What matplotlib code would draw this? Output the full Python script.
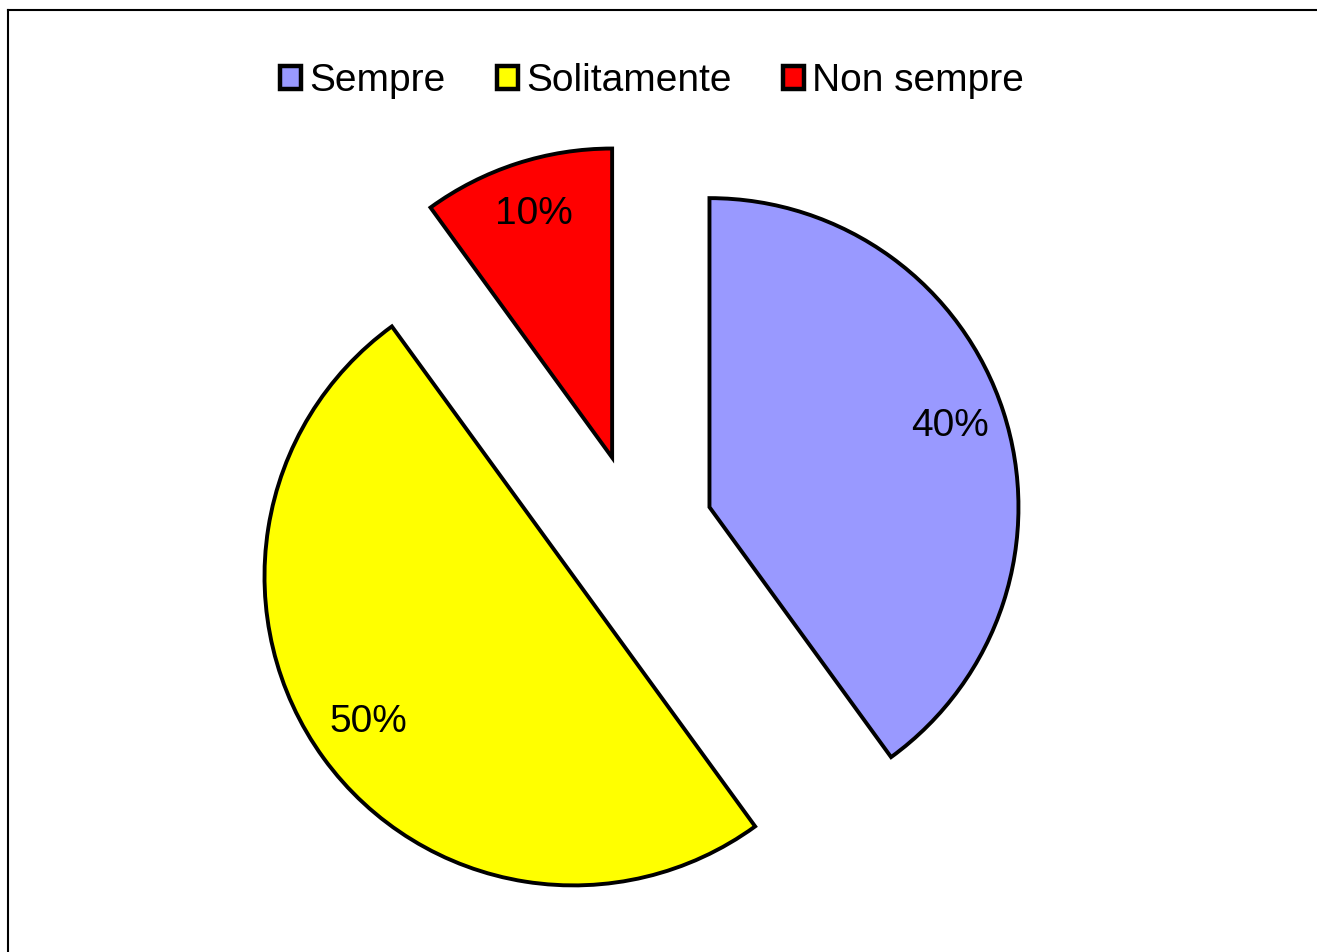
import matplotlib.pyplot as plt
from matplotlib.lines import Line2D

labels = ["Sempre", "Solitamente", "Non sempre"]
shares = [40, 50, 10]
colors = ["#9999FF", "#FFFF00", "#FF0000"]

W, H = 1317, 952
R = 309
plt.rcParams["font.family"] = ["Liberation Sans", "DejaVu Sans"]

fig = plt.figure(figsize=(W / 100, H / 100), dpi=100)
ax = fig.add_axes([0, 0, 1, 1])

# explode is in data units here (axes are in pixels)
wedges, texts, autotexts = ax.pie(
    shares,
    colors=colors,
    startangle=90,
    counterclock=False,
    explode=[0.25 * R] * len(shares),
    radius=R,
    center=(636, -531),
    autopct="%d%%",
    pctdistance=0.82,
    wedgeprops=dict(edgecolor="black", linewidth=2.8),
    textprops=dict(fontsize=28, color="black"),
)
for t in autotexts:
    x, y = t.get_position()
    t.set_position((x, y + 3))
ax.set_xlim(0, W)
ax.set_ylim(-H, 0)
ax.set_aspect("equal")
ax.axis("off")

# chart area frame (only top and left edges are visible)
fig.add_artist(Line2D([8 / W, 8 / W], [-0.1, 1 - 10 / H], transform=fig.transFigure,
                      color="black", linewidth=1.5))
fig.add_artist(Line2D([8 / W, 1.1], [1 - 10 / H, 1 - 10 / H], transform=fig.transFigure,
                      color="black", linewidth=1.5))

leg = fig.legend(
    wedges, labels,
    loc="center", bbox_to_anchor=(652 / W, 1 - 81 / H),
    ncol=3, frameon=False, fontsize=28,
    handlelength=0.55, handleheight=0.55, handletextpad=0.2,
    columnspacing=1.32,
)
for h in leg.legend_handles:
    h.set_linewidth(3.2)

fig.savefig("out.png", dpi=100, facecolor="white")
